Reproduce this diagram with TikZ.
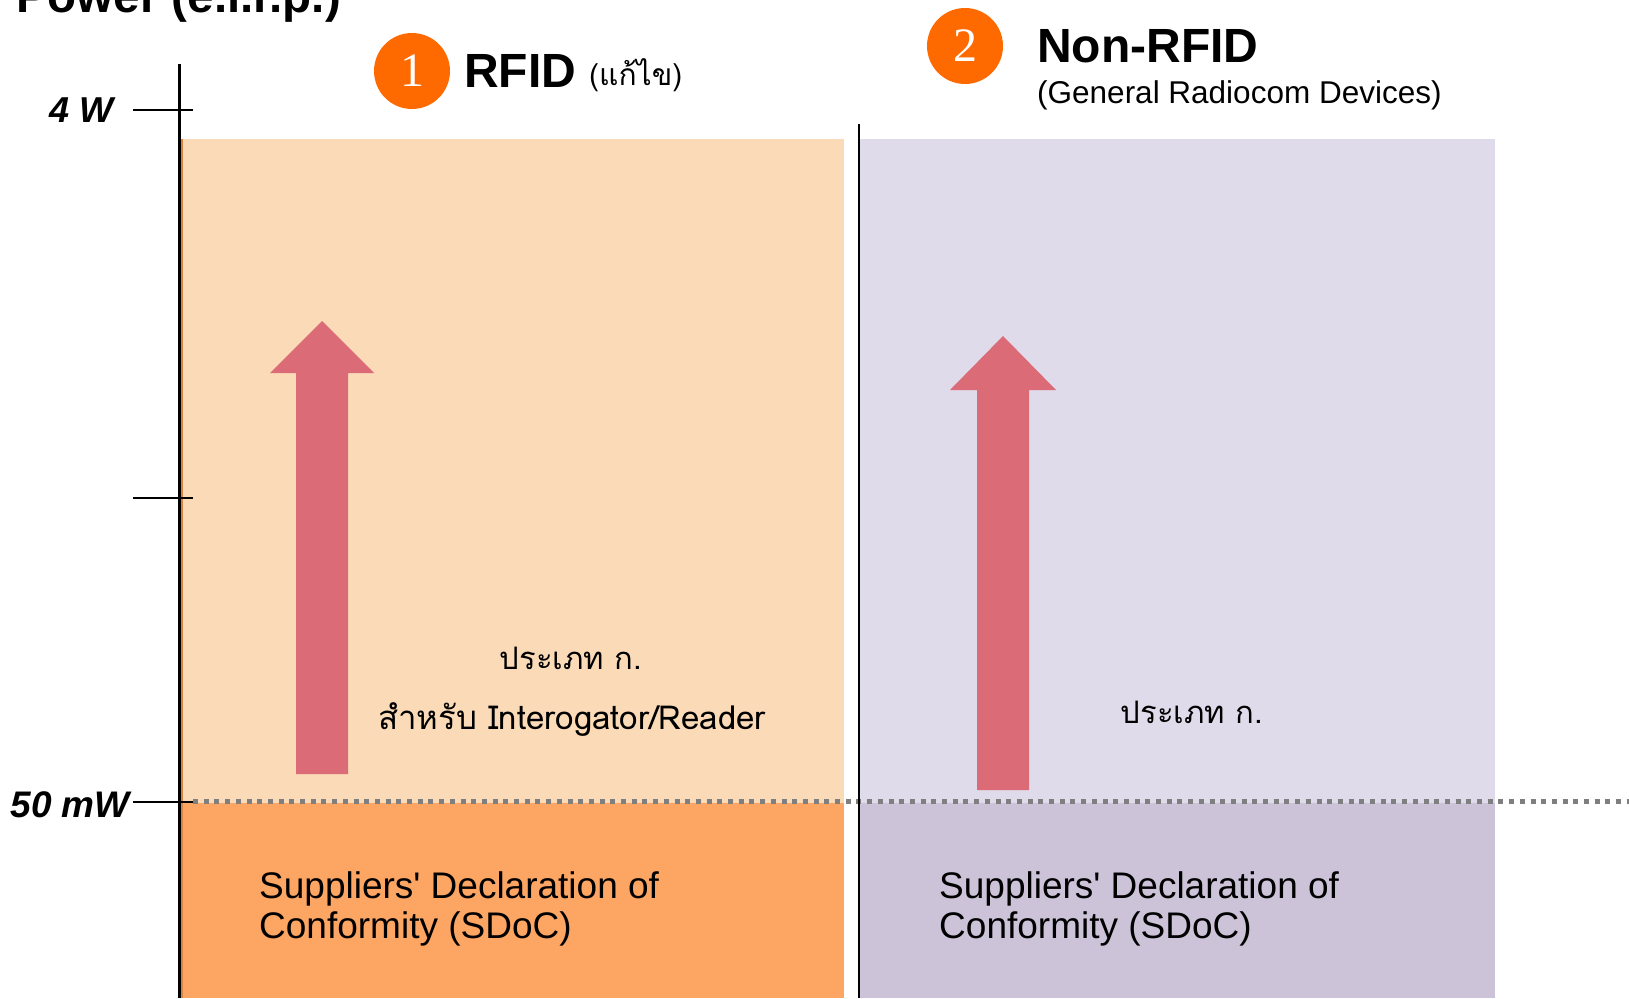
\documentclass[tikz,border=0pt]{standalone}
\usepackage{fontspec}
\setmainfont{Liberation Sans}
\newfontfamily\thaifont[Script=Thai]{Loma}
\newfontfamily\numfont{Liberation Serif}

\definecolor{rfidlight}{HTML}{FBDAB7}
\definecolor{rfiddark}{HTML}{FDA563}
\definecolor{rfidedge}{HTML}{D7843E}
\definecolor{genlight}{HTML}{E0DBEA}
\definecolor{gendark}{HTML}{CCC3D8}
\definecolor{uparrow}{HTML}{DA6B77}
\definecolor{badge}{HTML}{FF6A00}
\definecolor{limitline}{HTML}{7F7F7F}

\tikzset{
  axisline/.style={line width=3pt, black},
  tickline/.style={line width=2.2pt, black},
  divider/.style={line width=2.5pt, black},
  limitdots/.style={line width=5pt, limitline, dash pattern=on 5pt off 5.7pt},
  arrowfill/.style={fill=uparrow},
  badgecircle/.style={circle, fill=badge, minimum size=76pt, inner sep=0pt,
    text=white, font=\numfont\fontsize{48}{52}\selectfont},
  titletext/.style={inner sep=0pt, font=\bfseries\fontsize{48}{56}\selectfont},
  axislabel/.style={inner sep=0pt, font=\bfseries\itshape\fontsize{36}{40}\selectfont},
  subtitle/.style={inner sep=0pt, font=\fontsize{31.5}{36}\selectfont},
  thaitext/.style={inner sep=0pt, font=\thaifont\fontsize{31}{36}\selectfont},
  sdoc/.style={inner sep=0pt, align=left, font=\fontsize{37}{40}\selectfont},
}

\begin{document}
\begin{tikzpicture}[x=1pt, y=-1pt]
\useasboundingbox (0,0) rectangle (1629,998);

% coloured panels
\fill[rfidlight] (179,139) rectangle (844,803);
\fill[rfiddark]  (179,803) rectangle (844,998);
\fill[genlight]  (860,139) rectangle (1495,803);
\fill[gendark]   (860,803) rectangle (1495,998);
\draw[rfidedge, line width=2pt] (182,139) -- (182,998);

% 50 mW limit
\coordinate (lim-a) at (193,801);
\coordinate (lim-b) at (1629,801);
\draw[limitdots] (lim-a) -- (lim-b);

% power axis and ticks
\coordinate (ax-top) at (179,64);
\coordinate (ax-bot) at (179,998);
\draw[axisline] (ax-top) -- (ax-bot);
\coordinate (t1a) at (133,110); \coordinate (t1b) at (193,110);
\coordinate (t2a) at (133,498); \coordinate (t2b) at (193,498);
\coordinate (t3a) at (133,802); \coordinate (t3b) at (193,802);
\draw[tickline] (t1a) -- (t1b);
\draw[tickline] (t2a) -- (t2b);
\draw[tickline] (t3a) -- (t3b);

% divider between the two categories
\coordinate (div-top) at (859,124);
\coordinate (div-bot) at (859,998);
\draw[divider] (div-top) -- (div-bot);

% axis labels
\node[titletext, font=\bfseries\fontsize{47.5}{56}\selectfont, anchor=base west] (axtitle) at (16,13) {Power (e.i.r.p.)};
\node[axislabel, anchor=base east] (l4w) at (114,122) {4 W};
\node[axislabel, font=\bfseries\itshape\fontsize{37}{40}\selectfont, anchor=base east] (l50mw) at (130,817) {50 mW};

% upward arrows
\fill[arrowfill] (296,774) -- (296,373) -- (270,373) -- (322,321) -- (374,373)
  -- (348,373) -- (348,774) -- cycle;
\fill[arrowfill] (977,790) -- (977,390) -- (950,390) -- (1003,336) -- (1056,390)
  -- (1029,390) -- (1029,790) -- cycle;

% headings
\node[badgecircle] (b1) at (412,71) {1};
\node[titletext, anchor=base west] (rfid) at (464,88) {RFID};
\node[thaitext, font=\thaifont\fontsize{30}{34}\selectfont, anchor=base west] (rfidnote) at (589,85) {(แก้ไข)};

\node[badgecircle] (b2) at (965,46) {2};
\node[titletext, anchor=base west] (nonrfid) at (1037,63) {Non-RFID};
\node[subtitle, anchor=base west] (general) at (1037,103) {(General Radiocom Devices)};

% category texts
\node[thaitext, anchor=base] (typea1) at (571,669) {ประเภท ก.};
\node[thaitext, font=\thaifont\fontsize{33}{36}\selectfont, anchor=base] (reader) at (572,729) {สำหรับ Interogator/Reader};
\node[thaitext, anchor=base] (typea2) at (1192,723) {ประเภท ก.};

\node[sdoc, anchor=base west] (sdoc1) at (259,938) {Suppliers\textquotesingle{} Declaration of\\Conformity (SDoC)};
\node[sdoc, anchor=base west] (sdoc2) at (939,938) {Suppliers\textquotesingle{} Declaration of\\Conformity (SDoC)};
\end{tikzpicture}
\end{document}
